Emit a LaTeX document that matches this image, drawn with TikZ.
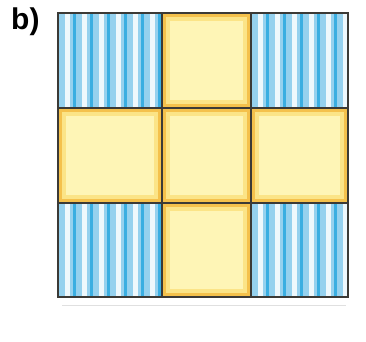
\documentclass[tikz,border=0pt]{standalone}
\usepackage{fontspec}
\setmainfont{Liberation Sans}

\definecolor{cellblue}{HTML}{95D1EE}
\definecolor{stripeblue}{HTML}{3AAEE1}
\definecolor{stripewhite}{HTML}{EEF8FC}
\definecolor{cellyellow}{HTML}{FEF5B6}
\definecolor{midyellow}{HTML}{FBE487}
\definecolor{edgeorange}{HTML}{F4C14C}
\definecolor{gridline}{HTML}{3B3A36}

\newcommand{\bluecell}[4]{%
  \fill[cellblue] (#1,#2) rectangle (#3,#4);
  \begin{scope}
    \clip (#1,#2) rectangle (#3,#4);
    \foreach \k in {0,...,5} {
      \fill[stripewhite] ({#1+6.5+\k*17},#2) rectangle ({#1+11.5+\k*17},#4);
      \draw[stripeblue, line width=3pt] ({#1+16+\k*17},#2) -- ({#1+16+\k*17},#4);
    }
  \end{scope}}
\newcommand{\yellowcell}[4]{%
  \fill[edgeorange] (#1,#2) rectangle (#3,#4);
  \fill[midyellow] ({#1+4},{#2+4}) rectangle ({#3-4},{#4-4});
  \fill[cellyellow] ({#1+8},{#2+8}) rectangle ({#3-8},{#4-8});}

\begin{document}
\begin{tikzpicture}[x=1pt, y=-1pt]
  \useasboundingbox (0,0) rectangle (366,341);

  \node[anchor=north west, inner sep=0pt, font=\bfseries\fontsize{30}{30}\selectfont] (label) at (11,8) {b)};

  \bluecell{58}{13}{162}{108}
  \yellowcell{162}{13}{251}{108}
  \bluecell{251}{13}{348}{108}

  \yellowcell{58}{108}{162}{203}
  \yellowcell{162}{108}{251}{203}
  \yellowcell{251}{108}{348}{203}

  \bluecell{58}{203}{162}{297}
  \yellowcell{162}{203}{251}{297}
  \bluecell{251}{203}{348}{297}

  \draw[gridline, line width=1.5pt] (58,13) rectangle (348,297);
  \draw[gridline, line width=1.5pt] (162,13) -- (162,297);
  \draw[gridline, line width=1.5pt] (251,13) -- (251,297);
  \draw[gridline, line width=1.5pt] (58,108) -- (348,108);
  \draw[gridline, line width=1.5pt] (58,203) -- (348,203);

  \draw[black!12, line width=1pt] (62,305) -- (346,305);
\end{tikzpicture}
\end{document}
